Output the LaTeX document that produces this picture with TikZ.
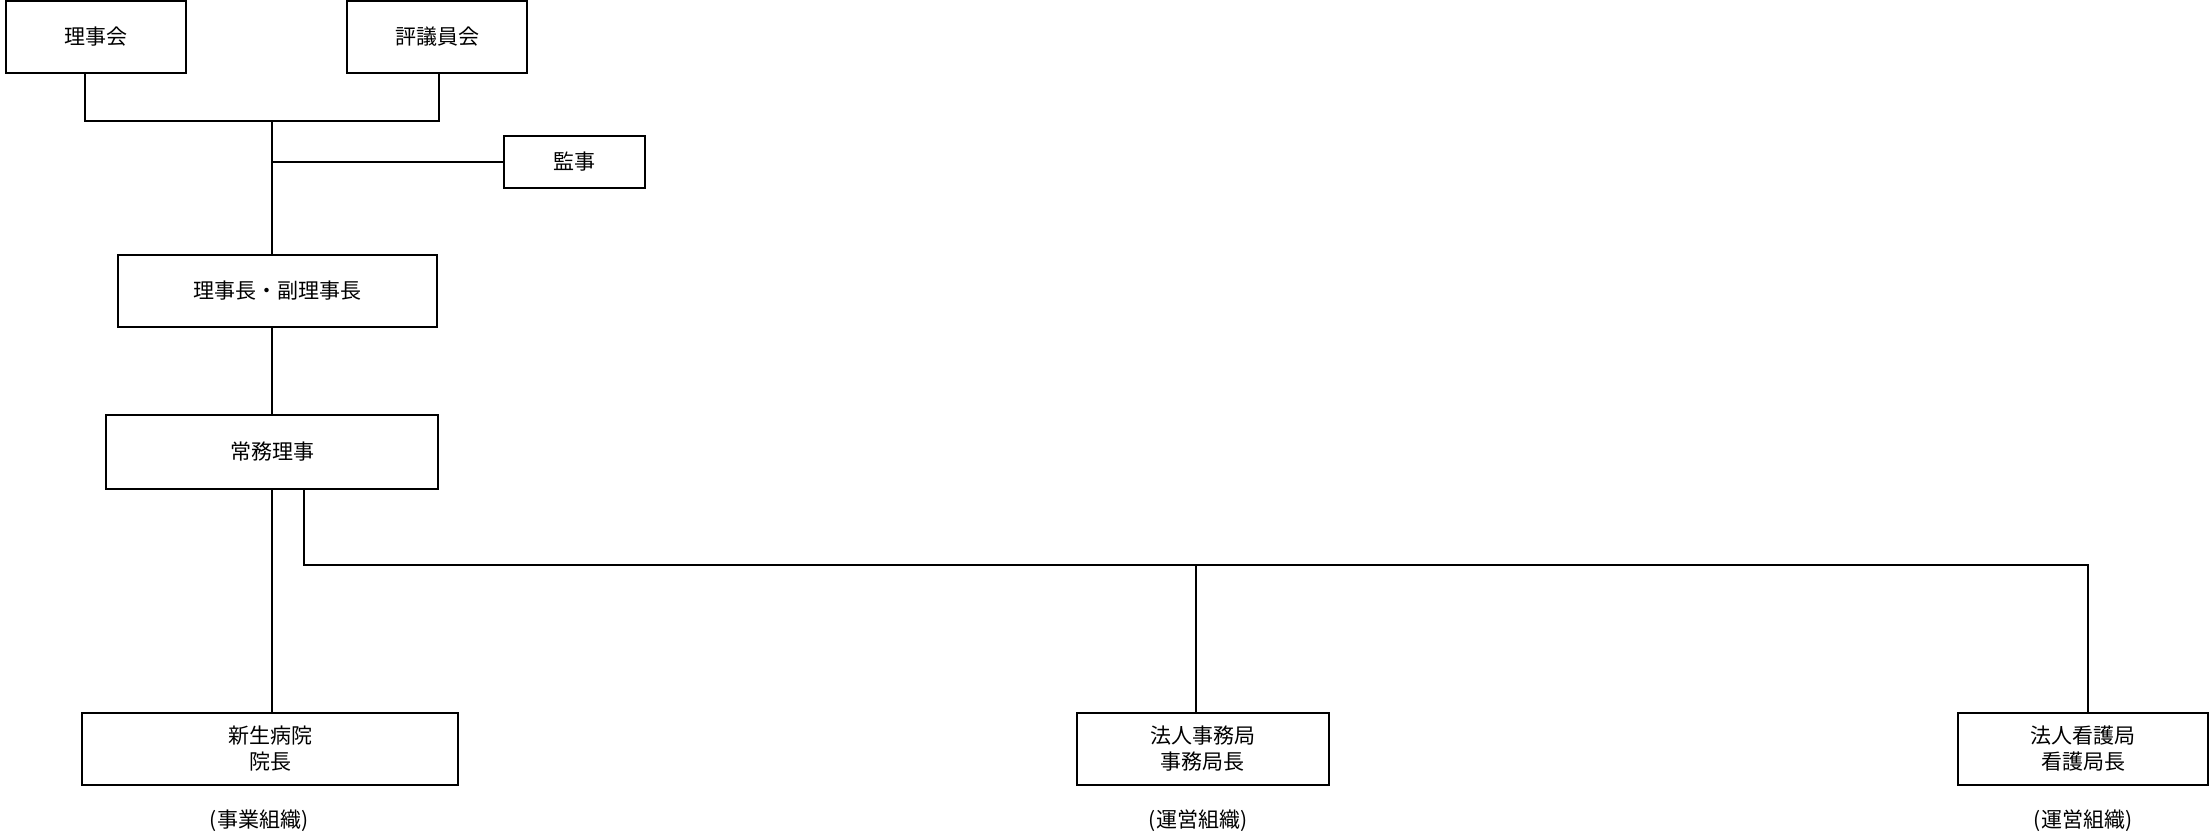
\documentclass[tikz,border=0pt]{standalone}
\usepackage{fontspec}
\setmainfont{Noto Sans CJK JP}
\begin{document}
\begin{tikzpicture}[x=1pt,y=-1pt,
 box/.style={draw, line width=2pt, inner sep=0pt, minimum height=72pt, align=center, font=\fontsize{21}{26}\selectfont},
 link/.style={line width=1.6pt},
 note/.style={font=\fontsize{21}{26}\selectfont}]
 \useasboundingbox (0,0) rectangle (2209,840);
 % boxes
 \node[box, minimum width=180pt] (rijikai) at (96,37) {理事会};
 \node[box, minimum width=180pt] (hyogiin) at (437,37) {評議員会};
 \node[box, minimum width=141pt, minimum height=52pt] (kanji) at (574.5,162) {監事};
 \node[box, minimum width=319pt] (richo) at (277.5,291) {理事長・副理事長};
 \node[box, minimum width=332pt, minimum height=74pt] (jomu) at (272,452) {常務理事};
 \node[box, minimum width=376pt] (byoin) at (270,749) {新生病院\\院長};
 \node[box, minimum width=252pt] (jimu) at (1202.5,749) {法人事務局\\事務局長};
 \node[box, minimum width=250pt] (kango) at (2083,749) {法人看護局\\看護局長};
 \node[note] (jigyo) at (259,821) {(事業組織)};
 \node[note] (uneiA) at (1198,821) {(運営組織)};
 \node[note] (uneiB) at (2083,821) {(運営組織)};
 % lines
 \coordinate (busL) at (85,121);
 \coordinate (busR) at (439,121);
 \coordinate (trunk) at (272,121);
 \coordinate (branch) at (304,565);
 \coordinate (jimutop) at (1196,565);
 \coordinate (kangotop) at (2088,565);
 \draw[link] (rijikai.south -| busL) -- (busL) -- (busR) -- (hyogiin.south -| busR);
 \draw[link] (trunk) -- (trunk |- richo.north);
 \draw[link] (trunk |- kanji.west) -- (kanji.west);
 \draw[link] (trunk |- richo.south) -- (trunk |- jomu.north);
 \draw[link] (trunk |- jomu.south) -- (trunk |- byoin.north);
 \draw[link] (branch |- jomu.south) -- (branch) -- (kangotop) -- (kangotop |- kango.north);
 \draw[link] (jimutop) -- (jimutop |- jimu.north);
\end{tikzpicture}
\end{document}
